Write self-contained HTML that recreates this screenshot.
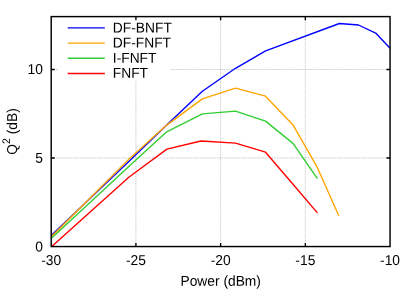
<!DOCTYPE html>
<html><head><meta charset="utf-8"><title>Q2 vs Power</title>
<style>
html,body{margin:0;padding:0;background:#fff;}
body{width:415px;height:291px;overflow:hidden;}
svg{display:block;}
svg{will-change:transform;} text{text-rendering:geometricPrecision;}
text{font-family:"Liberation Sans",sans-serif;font-size:13.8px;fill:#000;}
</style></head><body>
<svg width="415" height="291" viewBox="0 0 415 291">
<rect x="0" y="0" width="415" height="291" fill="#ffffff"/>

<g>
<path d="M135.91 246.55 V80.5" stroke="#bdbdbd" stroke-width="0.8" stroke-dasharray="1.45 0.95" fill="none"/>
<path d="M220.62 246.55 V16.6" stroke="#bdbdbd" stroke-width="0.8" stroke-dasharray="1.45 0.95" fill="none"/>
<path d="M305.34 246.55 V16.6" stroke="#bdbdbd" stroke-width="0.8" stroke-dasharray="1.45 0.95" fill="none"/>
<path d="M51.2 157.95 H390.05" stroke="#bdbdbd" stroke-width="0.8" stroke-dasharray="1.45 0.95" fill="none"/>
<path d="M51.2 69.50 H58.5" stroke="#bdbdbd" stroke-width="0.8" stroke-dasharray="1.45 0.95" fill="none"/>
<path d="M171.0 69.50 H390.05" stroke="#bdbdbd" stroke-width="0.8" stroke-dasharray="1.45 0.95" fill="none"/>
</g>
<clipPath id="pc"><rect x="51.2" y="16.6" width="338.85" height="229.95"/></clipPath><g clip-path="url(#pc)">
<polyline points="51.20,235.40 128.80,161.40 166.70,124.90 202.40,91.25 235.50,68.30 265.60,50.90 339.40,23.50 358.50,25.00 375.70,33.10 390.05,48.20" stroke="#0000ff" fill="none" stroke-width="1.38" stroke-linejoin="round" stroke-linecap="butt"/>
<polyline points="51.20,236.90 128.80,159.20 166.70,125.10 202.40,98.90 235.50,88.20 265.50,96.20 293.00,124.90 317.00,166.80 338.80,215.70" stroke="#ffa500" fill="none" stroke-width="1.38" stroke-linejoin="round" stroke-linecap="butt"/>
<polyline points="51.20,238.40 128.80,166.60 166.70,131.80 202.40,113.90 235.50,111.10 265.50,121.10 293.00,143.40 317.40,178.70" stroke="#32cd32" fill="none" stroke-width="1.38" stroke-linejoin="round" stroke-linecap="butt"/>
<polyline points="51.20,247.00 128.80,177.20 166.90,149.10 201.00,141.00 235.50,143.10 265.50,152.20 293.00,184.30 317.40,212.90" stroke="#ff0000" fill="none" stroke-width="1.38" stroke-linejoin="round" stroke-linecap="butt"/>
</g>
<path d="M67.7 27.9 H104.8" stroke="#0000ff" stroke-width="1.38" fill="none"/>
<text transform="translate(112.80 32.40) rotate(0.03) scale(1 1.04)" text-anchor="start">DF-BNFT</text>
<path d="M67.7 43.1 H104.8" stroke="#ffa500" stroke-width="1.38" fill="none"/>
<text transform="translate(112.80 47.50) rotate(0.03) scale(1 1.04)" text-anchor="start">DF-FNFT</text>
<path d="M67.7 58.3 H104.8" stroke="#32cd32" stroke-width="1.38" fill="none"/>
<text transform="translate(112.80 62.75) rotate(0.03) scale(1 1.04)" text-anchor="start">I-FNFT</text>
<path d="M67.7 73.5 H104.8" stroke="#ff0000" stroke-width="1.38" fill="none"/>
<text transform="translate(112.80 77.85) rotate(0.03) scale(1 1.04)" text-anchor="start">FNFT</text>
<path d="M135.91 246.55 v-3.6 M135.91 16.6 v3.6" stroke="#000" stroke-width="1.35" fill="none"/>
<path d="M220.62 246.55 v-3.6 M220.62 16.6 v3.6" stroke="#000" stroke-width="1.35" fill="none"/>
<path d="M305.34 246.55 v-3.6 M305.34 16.6 v3.6" stroke="#000" stroke-width="1.35" fill="none"/>
<path d="M51.2 157.95 h3.6 M390.05 157.95 h-3.6" stroke="#000" stroke-width="1.35" fill="none"/>
<path d="M51.2 69.50 h3.6 M390.05 69.50 h-3.6" stroke="#000" stroke-width="1.35" fill="none"/>
<rect x="51.2" y="16.6" width="338.85" height="229.95" fill="none" stroke="#000" stroke-width="1.45"/>
<text transform="translate(51.20 264.90) rotate(0.03) scale(1 1.04)" text-anchor="middle">-30</text>
<text transform="translate(135.91 264.90) rotate(0.03) scale(1 1.04)" text-anchor="middle">-25</text>
<text transform="translate(220.62 264.90) rotate(0.03) scale(1 1.04)" text-anchor="middle">-20</text>
<text transform="translate(305.34 264.90) rotate(0.03) scale(1 1.04)" text-anchor="middle">-15</text>
<text transform="translate(390.05 264.90) rotate(0.03) scale(1 1.04)" text-anchor="middle">-10</text>
<text transform="translate(42.90 251.40) rotate(0.03) scale(1 1.04)" text-anchor="end">0</text>
<text transform="translate(42.90 162.75) rotate(0.03) scale(1 1.04)" text-anchor="end">5</text>
<text transform="translate(42.90 74.00) rotate(0.03) scale(1 1.04)" text-anchor="end">10</text>
<text transform="translate(220.70 285.66) rotate(0.03) scale(1 1.04)" text-anchor="middle">Power (dBm)</text>
<text transform="translate(16.8 131.5) rotate(-90) scale(1 1.04)" text-anchor="middle">Q<tspan dy="-6.5" font-size="10.5">2</tspan><tspan dy="6.5"> (dB)</tspan></text>
</svg></body></html>
